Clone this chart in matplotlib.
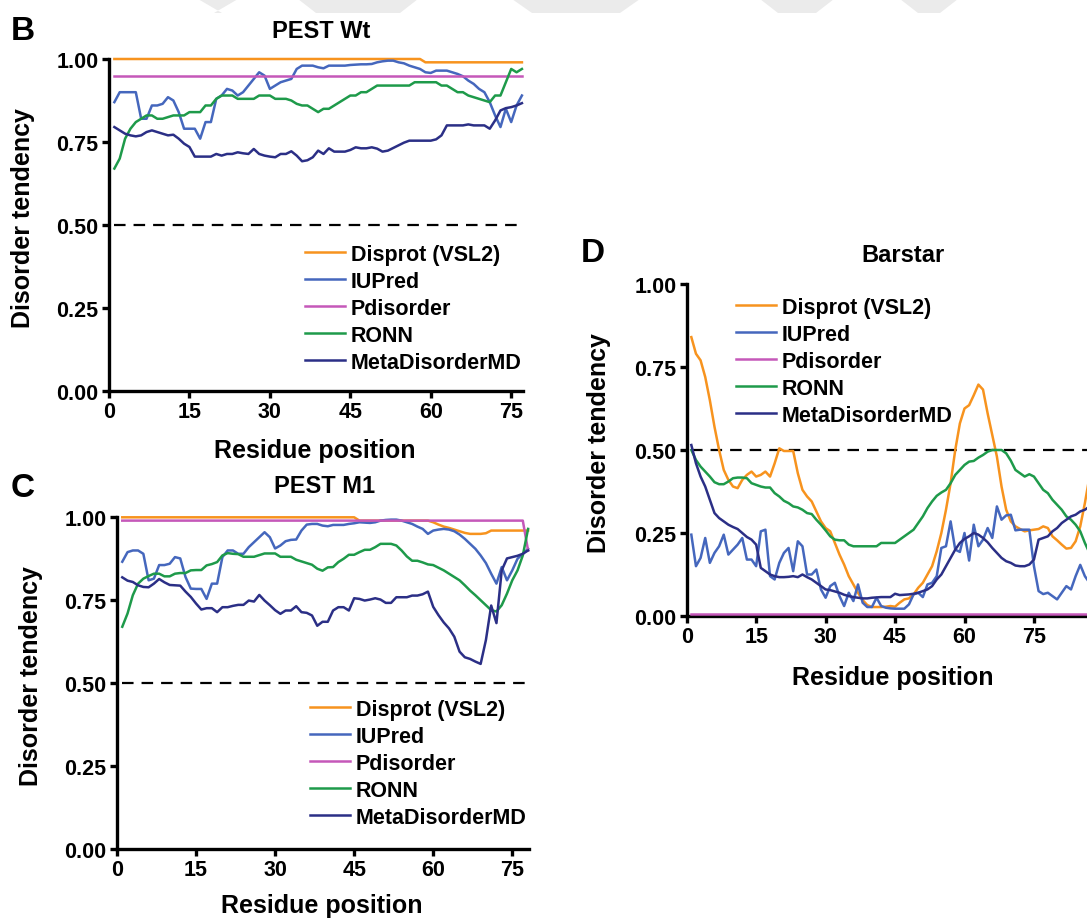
import numpy as np
import matplotlib
matplotlib.use("Agg")
import matplotlib.pyplot as plt
from matplotlib.lines import Line2D
from matplotlib.patches import Polygon

plt.rcParams['font.family'] = ['Liberation Sans', 'DejaVu Sans']
plt.rcParams['font.weight'] = 'bold'

W, H = 1087, 920

methods = ['Disprot (VSL2)', 'IUPred', 'Pdisorder', 'RONN', 'MetaDisorderMD']
colors = ['#F7931E', '#4567BD', '#C558B9', '#1E9A4A', '#2B2F86']
threshold = 0.5
yticks = [0.0, 0.25, 0.5, 0.75, 1.0]
xticks = [0, 15, 30, 45, 60, 75]

#################################
# PEST Wt (77 residues)
#################################
wt_disprot = [1.00, 1.00, 1.00, 1.00, 1.00, 1.00, 1.00, 1.00, 1.00, 1.00,
              1.00, 1.00, 1.00, 1.00, 1.00, 1.00, 1.00, 1.00, 1.00, 1.00,
              1.00, 1.00, 1.00, 1.00, 1.00, 1.00, 1.00, 1.00, 1.00, 1.00,
              1.00, 1.00, 1.00, 1.00, 1.00, 1.00, 1.00, 1.00, 1.00, 1.00,
              1.00, 1.00, 1.00, 1.00, 1.00, 1.00, 1.00, 1.00, 1.00, 1.00,
              1.00, 1.00, 1.00, 1.00, 1.00, 1.00, 1.00, 1.00, 0.99, 0.99,
              0.99, 0.99, 0.99, 0.99, 0.99, 0.99, 0.99, 0.99, 0.99, 0.99,
              0.99, 0.99, 0.99, 0.99, 0.99, 0.99, 0.99]
wt_iupred = [0.87, 0.90, 0.90, 0.90, 0.90, 0.82, 0.82, 0.86, 0.86, 0.865,
             0.885, 0.875, 0.84, 0.79, 0.79, 0.79, 0.76, 0.81, 0.81, 0.88,
             0.89, 0.91, 0.905, 0.89, 0.90, 0.92, 0.94, 0.96, 0.95, 0.91,
             0.92, 0.93, 0.935, 0.94, 0.97, 0.98, 0.98, 0.98, 0.975, 0.972,
             0.98, 0.98, 0.98, 0.98, 0.982, 0.983, 0.984, 0.984, 0.985, 0.99,
             0.993, 0.995, 0.995, 0.99, 0.987, 0.98, 0.975, 0.97, 0.96, 0.958,
             0.965, 0.965, 0.965, 0.96, 0.955, 0.948, 0.935, 0.925, 0.91, 0.90,
             0.87, 0.83, 0.795, 0.85, 0.81, 0.86, 0.89]
wt_pdisorder = [0.95, 0.95, 0.95, 0.95, 0.95, 0.95, 0.95, 0.95, 0.95, 0.95,
                0.95, 0.95, 0.95, 0.95, 0.95, 0.95, 0.95, 0.95, 0.95, 0.95,
                0.95, 0.95, 0.95, 0.95, 0.95, 0.95, 0.95, 0.95, 0.95, 0.95,
                0.95, 0.95, 0.95, 0.95, 0.95, 0.95, 0.95, 0.95, 0.95, 0.95,
                0.95, 0.95, 0.95, 0.95, 0.95, 0.95, 0.95, 0.95, 0.95, 0.95,
                0.95, 0.95, 0.95, 0.95, 0.95, 0.95, 0.95, 0.95, 0.95, 0.95,
                0.95, 0.95, 0.95, 0.95, 0.95, 0.95, 0.95, 0.95, 0.95, 0.95,
                0.95, 0.95, 0.95, 0.95, 0.95, 0.95, 0.95]
wt_ronn = [0.67, 0.70, 0.76, 0.79, 0.81, 0.82, 0.83, 0.83, 0.82, 0.82,
           0.825, 0.83, 0.83, 0.83, 0.84, 0.84, 0.84, 0.86, 0.86, 0.88,
           0.89, 0.89, 0.89, 0.88, 0.88, 0.88, 0.88, 0.89, 0.89, 0.89,
           0.88, 0.88, 0.88, 0.875, 0.865, 0.86, 0.86, 0.85, 0.84, 0.85,
           0.85, 0.86, 0.87, 0.88, 0.89, 0.89, 0.90, 0.90, 0.91, 0.92,
           0.92, 0.92, 0.92, 0.92, 0.92, 0.92, 0.93, 0.93, 0.93, 0.93,
           0.93, 0.92, 0.92, 0.91, 0.90, 0.90, 0.89, 0.885, 0.88, 0.875,
           0.87, 0.89, 0.89, 0.93, 0.97, 0.96, 0.97]
wt_meta = [0.795, 0.785, 0.775, 0.77, 0.767, 0.77, 0.78, 0.785, 0.78, 0.775,
           0.77, 0.772, 0.76, 0.745, 0.735, 0.706, 0.706, 0.706, 0.706, 0.714,
           0.709, 0.714, 0.714, 0.719, 0.716, 0.714, 0.729, 0.714, 0.709, 0.706,
           0.704, 0.714, 0.714, 0.722, 0.709, 0.692, 0.695, 0.704, 0.724, 0.714,
           0.731, 0.721, 0.721, 0.721, 0.726, 0.734, 0.731, 0.731, 0.734, 0.73,
           0.721, 0.724, 0.732, 0.74, 0.748, 0.754, 0.754, 0.754, 0.754, 0.754,
           0.758, 0.77, 0.80, 0.80, 0.80, 0.80, 0.803, 0.80, 0.80, 0.80,
           0.79, 0.815, 0.845, 0.852, 0.855, 0.86, 0.867]

#################################
# PEST M1 (78 residues)
#################################
m1_disprot = [1.00, 1.00, 1.00, 1.00, 1.00, 1.00, 1.00, 1.00, 1.00, 1.00,
              1.00, 1.00, 1.00, 1.00, 1.00, 1.00, 1.00, 1.00, 1.00, 1.00,
              1.00, 1.00, 1.00, 1.00, 1.00, 1.00, 1.00, 1.00, 1.00, 1.00,
              1.00, 1.00, 1.00, 1.00, 1.00, 1.00, 1.00, 1.00, 1.00, 1.00,
              1.00, 1.00, 1.00, 1.00, 1.00, 0.99, 0.99, 0.99, 0.99, 0.99,
              0.99, 0.99, 0.99, 0.99, 0.99, 0.99, 0.99, 0.99, 0.99, 0.985,
              0.978, 0.972, 0.968, 0.963, 0.958, 0.953, 0.95, 0.95, 0.95, 0.952,
              0.96, 0.96, 0.96, 0.96, 0.96, 0.96, 0.96, 0.96]
m1_iupred = [0.866, 0.895, 0.90, 0.90, 0.89, 0.81, 0.815, 0.856, 0.856, 0.86,
             0.88, 0.876, 0.82, 0.785, 0.784, 0.784, 0.754, 0.80, 0.80, 0.88,
             0.90, 0.90, 0.89, 0.89, 0.91, 0.925, 0.94, 0.955, 0.94, 0.906,
             0.915, 0.928, 0.932, 0.933, 0.96, 0.978, 0.98, 0.98, 0.975, 0.973,
             0.977, 0.977, 0.977, 0.98, 0.982, 0.985, 0.984, 0.983, 0.985, 0.99,
             0.992, 0.993, 0.993, 0.99, 0.985, 0.98, 0.972, 0.965, 0.95, 0.96,
             0.963, 0.965, 0.963, 0.958, 0.948, 0.935, 0.92, 0.905, 0.885, 0.862,
             0.83, 0.80, 0.85, 0.81, 0.84, 0.875, 0.89, 0.905]
m1_pdisorder = [0.99, 0.99, 0.99, 0.99, 0.99, 0.99, 0.99, 0.99, 0.99, 0.99,
                0.99, 0.99, 0.99, 0.99, 0.99, 0.99, 0.99, 0.99, 0.99, 0.99,
                0.99, 0.99, 0.99, 0.99, 0.99, 0.99, 0.99, 0.99, 0.99, 0.99,
                0.99, 0.99, 0.99, 0.99, 0.99, 0.99, 0.99, 0.99, 0.99, 0.99,
                0.99, 0.99, 0.99, 0.99, 0.99, 0.99, 0.99, 0.99, 0.99, 0.99,
                0.99, 0.99, 0.99, 0.99, 0.99, 0.99, 0.99, 0.99, 0.99, 0.99,
                0.99, 0.99, 0.99, 0.99, 0.99, 0.99, 0.99, 0.99, 0.99, 0.99,
                0.99, 0.99, 0.99, 0.99, 0.99, 0.99, 0.99, 0.90]
m1_ronn = [0.67, 0.71, 0.765, 0.80, 0.815, 0.823, 0.83, 0.83, 0.822, 0.822,
           0.83, 0.832, 0.832, 0.84, 0.841, 0.841, 0.855, 0.859, 0.865, 0.885,
           0.892, 0.89, 0.889, 0.881, 0.881, 0.881, 0.886, 0.891, 0.891, 0.891,
           0.881, 0.881, 0.881, 0.872, 0.867, 0.862, 0.857, 0.845, 0.839, 0.849,
           0.85, 0.865, 0.875, 0.887, 0.887, 0.895, 0.902, 0.902, 0.91, 0.92,
           0.92, 0.92, 0.915, 0.90, 0.882, 0.869, 0.869, 0.864, 0.858, 0.856,
           0.848, 0.84, 0.83, 0.82, 0.81, 0.795, 0.779, 0.765, 0.75, 0.735,
           0.72, 0.716, 0.735, 0.77, 0.81, 0.84, 0.885, 0.965]
m1_meta = [0.819, 0.809, 0.805, 0.795, 0.79, 0.789, 0.80, 0.814, 0.804, 0.796,
           0.795, 0.794, 0.776, 0.76, 0.74, 0.722, 0.726, 0.726, 0.714, 0.729,
           0.729, 0.733, 0.736, 0.736, 0.749, 0.746, 0.766, 0.749, 0.735, 0.72,
           0.709, 0.719, 0.719, 0.732, 0.714, 0.712, 0.704, 0.673, 0.685, 0.685,
           0.719, 0.729, 0.729, 0.719, 0.756, 0.754, 0.749, 0.752, 0.756, 0.752,
           0.742, 0.742, 0.759, 0.759, 0.759, 0.764, 0.764, 0.768, 0.776, 0.73,
           0.705, 0.683, 0.665, 0.64, 0.595, 0.578, 0.573, 0.565, 0.558, 0.63,
           0.734, 0.681, 0.84, 0.876, 0.88, 0.884, 0.89, 0.90]

#################################
# Barstar (89 residues)
#################################
bs_disprot = [0.84, 0.79, 0.77, 0.72, 0.65, 0.57, 0.50, 0.44, 0.41, 0.39,
              0.385, 0.41, 0.425, 0.435, 0.42, 0.425, 0.435, 0.42, 0.46, 0.505,
              0.497, 0.497, 0.497, 0.43, 0.38, 0.36, 0.345, 0.315, 0.285, 0.265,
              0.255, 0.22, 0.185, 0.155, 0.12, 0.095, 0.07, 0.048, 0.033, 0.027,
              0.027, 0.027, 0.028, 0.03, 0.028, 0.04, 0.05, 0.053, 0.065, 0.085,
              0.10, 0.125, 0.15, 0.195, 0.25, 0.32, 0.40, 0.50, 0.58, 0.625,
              0.635, 0.665, 0.697, 0.682, 0.61, 0.545, 0.48, 0.39, 0.32, 0.285,
              0.27, 0.262, 0.255, 0.258, 0.26, 0.262, 0.27, 0.265, 0.24, 0.228,
              0.215, 0.203, 0.205, 0.225, 0.27, 0.34, 0.42, 0.49, 0.55]
bs_iupred = [0.245, 0.15, 0.175, 0.235, 0.16, 0.19, 0.21, 0.245, 0.185, 0.20,
             0.215, 0.235, 0.17, 0.17, 0.15, 0.255, 0.26, 0.12, 0.11, 0.16,
             0.19, 0.205, 0.135, 0.225, 0.21, 0.125, 0.125, 0.14, 0.08, 0.055,
             0.09, 0.10, 0.06, 0.03, 0.07, 0.045, 0.095, 0.04, 0.027, 0.027,
             0.055, 0.03, 0.025, 0.023, 0.022, 0.022, 0.022, 0.035, 0.065, 0.07,
             0.057, 0.095, 0.10, 0.12, 0.205, 0.21, 0.285, 0.20, 0.193, 0.25,
             0.167, 0.275, 0.21, 0.23, 0.265, 0.235, 0.33, 0.29, 0.303, 0.305,
             0.258, 0.26, 0.26, 0.26, 0.15, 0.075, 0.066, 0.07, 0.06, 0.05,
             0.07, 0.09, 0.08, 0.12, 0.154, 0.12, 0.10, 0.12, 0.14]
bs_pdisorder = [0.005, 0.005, 0.005, 0.005, 0.005, 0.005, 0.005, 0.005, 0.005, 0.005,
                0.005, 0.005, 0.005, 0.005, 0.005, 0.005, 0.005, 0.005, 0.005, 0.005,
                0.005, 0.005, 0.005, 0.005, 0.005, 0.005, 0.005, 0.005, 0.005, 0.005,
                0.005, 0.005, 0.005, 0.005, 0.005, 0.005, 0.005, 0.005, 0.005, 0.005,
                0.005, 0.005, 0.005, 0.005, 0.005, 0.005, 0.005, 0.005, 0.005, 0.005,
                0.005, 0.005, 0.005, 0.005, 0.005, 0.005, 0.005, 0.005, 0.005, 0.005,
                0.005, 0.005, 0.005, 0.005, 0.005, 0.005, 0.005, 0.005, 0.005, 0.005,
                0.005, 0.005, 0.005, 0.005, 0.005, 0.005, 0.005, 0.005, 0.005, 0.005,
                0.005, 0.005, 0.005, 0.005, 0.005, 0.005, 0.005, 0.005, 0.005]
bs_ronn = [0.50, 0.47, 0.45, 0.435, 0.42, 0.403, 0.397, 0.397, 0.405, 0.415,
           0.417, 0.417, 0.415, 0.40, 0.395, 0.39, 0.387, 0.387, 0.37, 0.36,
           0.347, 0.34, 0.33, 0.327, 0.32, 0.31, 0.307, 0.29, 0.275, 0.258,
           0.24, 0.23, 0.228, 0.228, 0.215, 0.21, 0.21, 0.21, 0.21, 0.21,
           0.21, 0.22, 0.22, 0.22, 0.22, 0.23, 0.24, 0.25, 0.26, 0.28,
           0.30, 0.325, 0.345, 0.362, 0.372, 0.38, 0.40, 0.425, 0.44, 0.455,
           0.465, 0.467, 0.477, 0.485, 0.495, 0.50, 0.50, 0.50, 0.49, 0.468,
           0.44, 0.43, 0.42, 0.427, 0.42, 0.40, 0.38, 0.37, 0.35, 0.335,
           0.32, 0.30, 0.29, 0.275, 0.255, 0.22, 0.19, 0.17, 0.15]
bs_meta = [0.515, 0.46, 0.42, 0.39, 0.35, 0.31, 0.295, 0.285, 0.275, 0.268,
           0.262, 0.25, 0.238, 0.23, 0.215, 0.145, 0.135, 0.125, 0.12, 0.117,
           0.117, 0.118, 0.12, 0.117, 0.125, 0.117, 0.11, 0.10, 0.09, 0.08,
           0.078, 0.074, 0.07, 0.064, 0.06, 0.057, 0.055, 0.053, 0.053, 0.055,
           0.056, 0.057, 0.057, 0.057, 0.067, 0.063, 0.064, 0.065, 0.067, 0.07,
           0.075, 0.08, 0.09, 0.11, 0.125, 0.15, 0.175, 0.20, 0.22, 0.232,
           0.24, 0.25, 0.245, 0.235, 0.222, 0.205, 0.19, 0.175, 0.165, 0.16,
           0.152, 0.15, 0.15, 0.155, 0.17, 0.23, 0.235, 0.24, 0.255, 0.265,
           0.28, 0.29, 0.30, 0.305, 0.315, 0.32, 0.33, 0.34, 0.35]


def fx(px):
    return px / W


def fy(py):
    return 1 - py / H


fig = plt.figure(figsize=(W / 100, H / 100), dpi=100)

# faint grey watermark strokes along the top edge
for xs in [(198, 222, 238, 214), (298, 316, 418, 400), (512, 532, 640, 620),
           (760, 778, 834, 816), (900, 918, 958, 940)]:
    pts = [(fx(xs[0]), fy(0)), (fx(xs[2]), fy(0)),
           (fx(xs[3]), fy(14)), (fx(xs[1]), fy(14))]
    fig.patches.append(Polygon(pts, closed=True, transform=fig.transFigure,
                               facecolor='#EBEBEB', edgecolor='none', zorder=0))


def panel(left, right, top, bottom, xmax, series, title, letter,
          title_xy, letter_xy, xlabel_xy, ylabel_xy, legend_xy):
    ax = fig.add_axes([fx(left), fy(bottom), fx(right - left), (bottom - top) / H])
    ax.patch.set_alpha(0)
    for vals, col in zip(series, colors):
        res = np.arange(1, len(vals) + 1)
        ax.plot(res, vals, color=col, lw=1.8, clip_on=False, zorder=3)
    n = len(series[0])
    ax.plot([1, n], [threshold, threshold], color='black', lw=1.6,
            dashes=(5.2, 3.6), zorder=2)
    ax.set_xlim(0, xmax)
    ax.set_ylim(0, 1)
    ax.set_xticks(xticks)
    ax.set_yticks(yticks)
    ax.set_yticklabels(['%.2f' % v for v in yticks])
    for s in ['top', 'right']:
        ax.spines[s].set_visible(False)
    for s in ['left', 'bottom']:
        ax.spines[s].set_linewidth(2.4)
    ax.tick_params(width=2.4, length=5, labelsize=15.5, pad=2.5)
    for lab in ax.get_xticklabels() + ax.get_yticklabels():
        lab.set_fontweight('bold')

    fig.text(fx(title_xy[0]), fy(title_xy[1]), title, fontsize=17,
             ha='center', va='center')
    fig.text(fx(letter_xy[0]), fy(letter_xy[1]), letter, fontsize=24,
             ha='left', va='center')
    fig.text(fx(xlabel_xy[0]), fy(xlabel_xy[1]), 'Residue position',
             fontsize=18, ha='center', va='center')
    fig.text(fx(ylabel_xy[0]), fy(ylabel_xy[1]), 'Disorder tendency',
             fontsize=18, ha='center', va='center', rotation=90)

    handles = [Line2D([], [], color=c, lw=1.8) for c in colors]
    ax.legend(handles, methods, loc='upper left',
              bbox_to_anchor=(fx(legend_xy[0]), fy(legend_xy[1])),
              bbox_transform=fig.transFigure, frameon=False, borderpad=0,
              handlelength=1.85, handletextpad=0.3, labelspacing=0.28,
              fontsize=15.5)
    return ax


# B: PEST Wt
panel(109, 523, 60, 392, 77.2,
      [wt_disprot, wt_iupred, wt_pdisorder, wt_ronn, wt_meta],
      'PEST Wt', 'B', (321, 32), (11, 32), (315, 451), (23, 218), (294, 234))

# C: PEST M1
panel(117, 528.6, 518.3, 850, 78.1,
      [m1_disprot, m1_iupred, m1_pdisorder, m1_ronn, m1_meta],
      'PEST M1', 'C', (325, 487), (11, 489), (322, 906), (31, 676), (299, 689))

# D: Barstar (runs past the right edge)
panel(686.7, 686.7 + 92 * 4.63, 285, 617, 92,
      [bs_disprot, bs_iupred, bs_pdisorder, bs_ronn, bs_meta],
      'Barstar', 'D', (903, 255), (581, 254), (893, 678), (599, 443), (725, 287))

fig.savefig('out.png', dpi=100)
